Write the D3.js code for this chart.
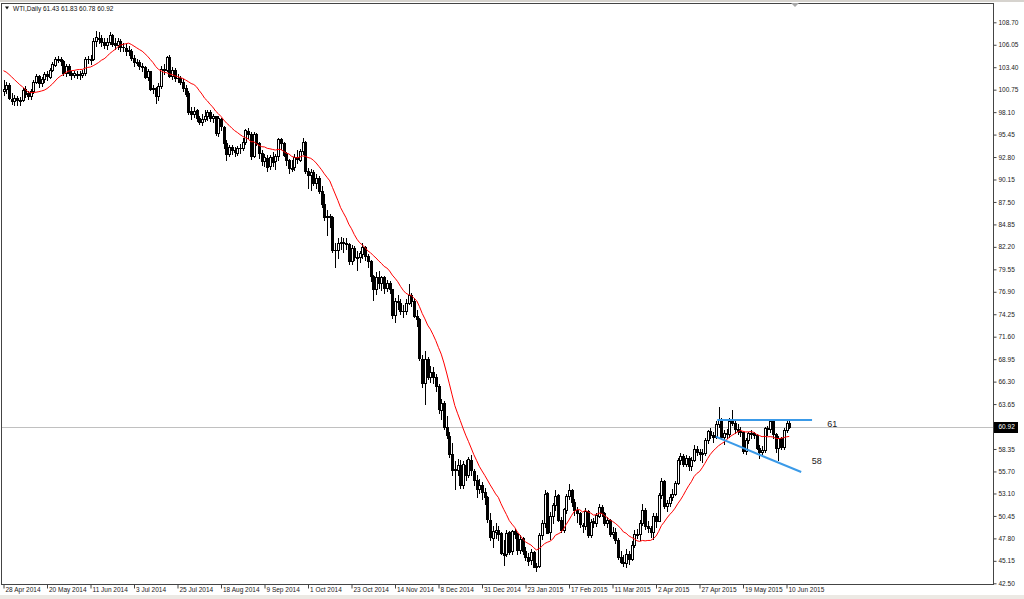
<!DOCTYPE html>
<html><head><meta charset="utf-8">
<script src="https://cdn.jsdelivr.net/npm/d3@7"></script>
<style>
body{margin:0;background:#fff;overflow:hidden;}
svg{display:block;font-family:"Liberation Sans",Arial,sans-serif;}
</style>
</head><body>
<svg id="c" width="1024" height="599"></svg>
<script>
// ---------------- data ----------------
const symbolTitle = "WTI,Daily";
const lastQuote = ["61.43", "61.83", "60.78", "60.92"];
const lastPrice = 60.92;

const dateTickLabels = ["28 Apr 2014","20 May 2014","11 Jun 2014","3 Jul 2014","25 Jul 2014","18 Aug 2014",
  "9 Sep 2014","1 Oct 2014","23 Oct 2014","14 Nov 2014","8 Dec 2014","31 Dec 2014","23 Jan 2015",
  "17 Feb 2015","11 Mar 2015","2 Apr 2015","27 Apr 2015","19 May 2015","10 Jun 2015"];
const dateTickBars = [0,16,32,48,64,80,96,112,128,144,160,176,192,208,224,240,256,272,288];

const priceTicks = [108.70,106.05,103.40,100.75,98.10,95.45,92.80,90.15,87.50,84.85,82.20,79.55,76.90,
  74.25,71.60,68.95,66.30,63.65,61.00,58.35,55.70,53.10,50.45,47.80,45.15,42.50];

const opens = [
  100.60,100.80,101.30,99.70,99.40,99.80,99.50,99.50,100.80,100.30,100.00,100.60,101.70,102.40,101.50,102.00,
  102.60,102.30,103.10,103.70,104.30,104.40,104.10,102.70,103.60,102.70,102.50,102.60,102.60,102.50,102.70,104.40,
  104.30,104.40,106.50,106.90,106.90,106.40,106.00,106.40,107.20,106.20,106.00,106.50,105.80,105.70,105.40,105.30,
  104.50,104.00,104.00,103.50,103.40,102.30,102.90,100.80,100.90,100.00,101.20,103.20,103.10,104.60,102.40,103.10,
  102.10,102.10,101.70,101.00,100.30,98.20,97.90,98.30,97.40,96.90,97.30,97.60,98.10,97.40,97.60,95.60,
  97.30,96.40,94.50,93.10,94.00,93.60,93.30,93.90,93.90,94.60,95.90,95.50,92.90,95.50,94.40,93.30,
  92.30,92.70,91.70,92.80,92.30,92.90,94.90,94.40,93.10,92.40,91.50,91.60,92.80,92.50,93.50,94.60,
  91.20,90.70,91.00,89.70,90.30,88.80,87.30,85.80,85.80,85.70,81.80,81.80,82.70,82.80,82.70,82.50,
  80.50,82.10,81.00,81.00,81.40,82.20,81.10,80.50,78.80,77.20,78.70,77.90,78.60,77.40,77.90,77.20,
  74.20,75.80,75.60,74.60,74.60,75.60,76.50,75.80,74.10,73.70,69.00,66.10,69.00,66.90,67.40,66.80,
  65.80,63.00,63.80,60.90,59.90,57.80,55.90,55.90,56.50,54.10,56.50,55.30,57.10,55.80,54.70,53.60,
  54.10,53.30,52.70,50.00,47.90,48.60,48.80,48.40,46.10,45.90,48.50,46.30,48.70,48.30,46.40,47.80,
  46.30,45.60,45.20,46.20,44.40,44.50,48.20,49.60,53.10,48.50,50.50,51.70,52.90,50.00,48.80,51.20,
  52.80,53.50,52.10,51.20,50.80,49.40,49.30,51.00,48.20,49.80,49.60,50.50,51.50,50.80,49.60,50.00,
  48.30,48.60,47.60,45.60,45.00,44.90,46.00,45.40,47.00,48.30,48.30,49.60,51.20,49.30,49.00,48.60,
  50.40,49.90,52.90,54.60,51.60,52.00,52.70,53.00,54.30,57.00,57.50,56.60,57.30,56.30,57.10,58.40,
  58.00,57.80,57.90,59.40,60.50,60.00,59.80,61.30,61.80,59.80,60.20,60.10,61.60,61.40,60.70,60.50,
  60.30,58.10,59.40,60.20,60.20,60.00,58.50,58.00,58.20,60.80,60.70,61.70,60.10,58.50,59.60,58.60,
  60.60,61.43];
const highs = [
  101.90,101.60,101.50,100.30,100.10,100.00,99.90,101.00,101.20,100.60,100.80,101.90,102.60,102.50,102.30,102.80,
  102.90,103.30,104.00,104.60,104.70,104.60,104.30,103.80,103.80,103.00,103.00,103.00,103.00,103.10,104.60,104.70,
  104.90,106.90,107.70,107.60,107.20,106.80,106.90,107.50,107.30,106.80,106.80,106.70,106.30,106.10,105.90,105.50,
  104.80,104.40,104.20,103.90,103.50,103.20,103.00,101.30,101.10,101.50,103.50,103.80,104.70,104.80,103.40,103.30,
  102.60,102.40,102.00,101.30,100.60,98.70,98.70,98.50,97.70,97.90,98.30,98.40,98.30,97.90,97.70,97.60,
  97.40,96.50,94.80,94.20,94.20,94.00,94.10,94.30,95.00,96.10,96.20,95.70,95.70,95.60,94.60,93.60,
  93.20,93.00,93.00,93.40,93.10,95.10,95.00,94.60,93.40,92.60,92.40,93.10,93.60,93.80,95.00,94.70,
  91.50,91.40,91.30,90.80,90.60,89.40,88.40,86.50,86.10,85.90,82.60,83.20,83.40,83.30,83.30,82.70,
  82.40,82.30,81.70,81.70,82.60,82.30,81.30,80.70,78.90,79.20,79.30,78.80,78.80,78.30,78.20,77.20,
  76.20,76.50,76.00,75.30,76.00,77.80,76.70,76.20,74.80,73.80,69.40,69.90,69.20,68.10,68.00,67.20,
  66.00,64.20,64.00,62.20,60.40,59.00,56.90,57.20,57.00,56.90,57.00,57.40,57.60,56.00,55.30,54.80,
  54.50,53.70,52.80,50.80,49.30,49.60,49.30,48.50,47.60,48.80,48.70,48.80,48.90,48.40,48.20,48.00,
  46.80,46.10,46.50,46.30,44.90,48.40,50.00,53.50,53.30,50.90,52.00,53.50,53.00,50.30,51.40,53.00,
  54.20,53.60,52.40,51.50,50.90,49.60,51.40,51.10,50.10,50.20,50.80,51.80,51.70,50.90,50.30,50.10,
  49.20,49.00,47.80,46.30,45.80,46.60,46.30,47.50,48.80,48.90,50.00,51.80,51.40,49.90,49.30,50.80,
  50.80,53.10,54.90,54.70,52.30,53.00,53.60,54.60,57.30,57.90,57.70,57.60,57.50,57.40,58.80,58.70,
  58.30,58.30,59.60,60.60,60.80,60.40,61.60,63.30,62.00,60.60,60.70,62.00,63.00,61.80,61.30,60.90,
  60.40,59.60,60.40,60.60,60.30,60.10,58.80,58.70,60.90,61.10,61.90,61.80,60.20,59.90,59.80,60.80,
  61.90,61.83];
const lows = [
  100.10,100.40,99.60,99.10,98.90,98.90,98.90,99.40,99.90,99.60,99.70,100.40,101.50,101.10,101.20,101.70,
  101.90,102.10,102.90,103.50,104.00,103.70,102.50,102.40,102.50,102.00,102.20,102.10,102.00,102.20,102.50,103.90,
  103.80,104.20,105.90,106.20,105.90,105.70,105.60,106.10,105.90,105.60,105.50,105.30,105.30,104.90,104.90,104.20,
  103.60,103.70,103.20,102.90,102.10,101.90,100.70,100.30,99.20,99.50,101.00,102.60,102.90,102.20,102.00,101.80,
  101.60,101.40,100.60,100.00,97.90,97.30,97.50,97.10,96.70,96.60,97.00,97.20,97.00,96.90,95.40,95.30,
  96.00,93.90,92.50,92.90,93.20,92.90,93.00,93.30,93.60,94.30,95.10,92.60,92.80,94.20,92.70,91.90,
  91.70,91.20,91.40,91.80,91.40,92.50,93.70,92.90,91.90,90.90,91.20,91.30,92.10,92.30,93.20,90.90,
  89.20,88.90,89.50,89.20,88.50,86.90,85.40,83.60,84.50,81.60,79.80,80.90,81.90,81.60,81.90,80.20,
  80.20,80.70,79.50,80.40,80.90,80.60,79.80,78.20,75.90,76.60,77.40,77.10,76.80,77.00,76.80,73.80,
  73.30,74.90,74.30,73.90,74.30,75.40,75.20,73.90,72.90,68.80,65.70,63.70,66.60,66.20,66.10,65.20,
  62.60,61.90,60.70,59.60,57.40,55.30,53.60,55.30,53.80,53.70,54.70,55.00,55.30,54.10,52.70,53.10,
  52.40,51.90,49.70,47.60,46.80,47.80,47.60,45.90,44.70,45.70,45.90,45.90,47.90,45.90,46.10,45.90,
  45.20,44.70,44.80,44.40,44.00,44.40,47.70,49.20,48.40,47.70,49.60,51.10,49.90,48.60,48.60,50.80,
  52.40,51.60,50.60,49.70,49.20,48.60,48.90,48.00,48.00,49.10,49.30,50.30,50.40,49.40,49.20,48.10,
  47.80,47.30,45.40,44.90,44.50,44.40,44.80,45.20,46.80,47.80,47.60,49.40,48.90,48.60,48.00,47.70,
  49.20,49.80,52.60,51.40,51.00,51.60,52.30,52.90,54.20,56.60,56.30,56.40,55.90,55.90,56.90,57.60,
  57.00,56.80,57.60,59.10,59.70,59.20,59.60,61.00,59.50,58.90,59.60,59.80,61.20,60.20,60.10,59.90,
  57.90,57.80,59.00,59.70,59.60,58.30,57.30,57.80,58.00,60.00,60.40,59.70,58.00,57.10,58.30,58.40,
  60.30,60.78];
const closes = [
  100.84,101.28,99.74,99.42,99.76,99.48,99.50,100.77,100.26,99.99,100.59,101.70,102.37,101.50,102.02,102.61,
  102.33,103.07,103.75,104.35,104.40,104.11,102.72,103.58,102.71,102.47,102.66,102.64,102.48,102.66,104.41,104.35,
  104.40,106.53,106.91,106.90,106.36,105.97,106.43,107.26,106.17,106.03,106.50,105.84,105.74,105.37,105.34,104.48,
  104.06,104.00,103.53,103.40,102.29,102.93,100.83,100.91,99.96,101.20,103.19,103.13,104.59,102.39,103.12,102.07,
  102.09,101.67,100.97,100.27,98.17,97.88,98.29,97.38,96.92,97.34,97.65,98.08,97.37,97.59,95.58,97.35,
  96.41,94.48,93.10,93.96,93.65,93.35,93.86,93.88,94.55,95.96,95.50,92.88,95.54,94.45,93.29,92.29,
  92.75,91.67,92.83,92.27,92.92,94.88,94.42,93.07,92.41,91.52,91.56,92.80,92.53,93.54,94.57,91.16,
  90.73,91.01,89.74,90.34,88.85,87.31,85.77,85.82,85.74,81.84,81.78,82.70,82.75,82.71,82.49,80.52,
  82.09,81.01,81.00,81.42,82.20,81.12,80.54,78.78,77.19,78.68,77.91,78.65,77.40,77.94,77.18,74.21,
  75.82,75.64,74.61,74.58,75.58,76.51,75.78,74.09,73.69,69.05,66.15,69.00,66.88,67.38,66.81,65.84,
  63.05,63.82,60.94,59.95,57.81,55.91,55.93,56.47,54.11,56.52,55.26,57.12,55.84,54.73,53.61,54.12,
  53.27,52.69,50.04,47.93,48.65,48.79,48.36,46.07,45.89,48.48,46.25,48.69,48.30,46.39,47.78,46.31,
  45.59,45.15,46.23,44.45,44.53,48.24,49.57,53.05,48.45,50.48,51.69,52.86,50.02,48.84,51.21,52.78,
  53.53,52.14,51.16,50.81,49.45,49.27,50.99,48.17,49.76,49.59,50.52,51.53,50.76,49.61,50.00,48.29,
  48.60,47.60,45.60,45.00,44.90,46.00,45.40,47.00,48.30,48.30,49.60,51.20,49.30,49.00,48.60,50.40,
  49.90,52.90,54.60,51.60,52.00,52.70,53.00,54.30,57.00,57.50,56.60,57.30,56.30,57.10,58.40,58.00,
  57.80,57.90,59.40,60.50,60.00,59.80,61.30,61.80,59.80,60.20,60.10,61.60,61.40,60.70,60.50,60.30,
  58.10,59.40,60.20,60.20,60.00,58.50,58.00,58.20,60.80,60.70,61.70,60.10,58.50,59.60,58.60,60.60,
  61.43,60.92];

// closes before the first visible bar (warm-up for the moving average)
const priorCloses = [103.60,103.40,103.74,104.05,103.75,103.76,104.30,104.30,104.37,101.75,101.44,101.94,100.60];
const maPeriod = 14;

// hand-drawn annotation lines: [barIndex, price]
const resistanceLine = [[262.5, 61.77], [297.4, 61.77]];
const supportLine = [[262.0, 59.80], [293.4, 55.63]];
const annotationLabels = [["61", 303.0, 61.30], ["58", 297.3, 56.90]];

// ---------------- drawing ----------------
const W = 1024, H = 599;
const svg = d3.select("#c");
const plot = {left: 1.5, right: 993.5, top: 3.5, bottom: 584.5};

const x = d3.scaleLinear().domain([0, 288]).range([3.5, 786.5]);
const y = d3.scaleLinear().domain([42.50, 108.70]).range([583.3, 22.3]);

// outer chrome
svg.append("rect").attr("x", 0).attr("y", 0).attr("width", W).attr("height", H).attr("fill", "#fff");
svg.append("rect").attr("x", 0).attr("y", 0).attr("width", W).attr("height", 2).attr("fill", "#d6d3ce");
svg.append("rect").attr("x", 0).attr("y", 595).attr("width", W).attr("height", 4).attr("fill", "#ece9e4");

const defs = svg.append("defs");
defs.append("clipPath").attr("id", "clip").append("rect")
  .attr("x", plot.left).attr("y", plot.top)
  .attr("width", plot.right - plot.left).attr("height", plot.bottom - plot.top);

// current price line
svg.append("line")
  .attr("x1", plot.left).attr("x2", plot.right)
  .attr("y1", Math.round(y(lastPrice)) + 0.5).attr("y2", Math.round(y(lastPrice)) + 0.5)
  .attr("stroke", "#c0c0c0").attr("stroke-width", 1);

const g = svg.append("g").attr("clip-path", "url(#clip)");

// candles
const idx = d3.range(closes.length);
const cg = g.append("g");
idx.forEach(i => {
  const cx = Math.round(x(i));
  const o = opens[i], c = closes[i];
  const top = Math.round(y(Math.max(o, c)));
  const bot = Math.round(y(Math.min(o, c)));
  cg.append("line")
    .attr("x1", cx + 0.5).attr("x2", cx + 0.5)
    .attr("y1", Math.round(y(highs[i]))).attr("y2", Math.round(y(lows[i])) + 1)
    .attr("stroke", "#000").attr("stroke-width", 1);
  if (c >= o) {
    cg.append("rect")
      .attr("x", cx - 0.5).attr("y", top + 0.5)
      .attr("width", 2).attr("height", Math.max(bot - top, 1))
      .attr("fill", "#fff").attr("stroke", "#000").attr("stroke-width", 1);
  } else {
    cg.append("rect")
      .attr("x", cx - 1).attr("y", top)
      .attr("width", 3).attr("height", Math.max(bot - top + 1, 1))
      .attr("fill", "#000");
  }
});

// moving average of closes
const allCloses = priorCloses.concat(closes);
const ma = idx.map(i => {
  const k = i + priorCloses.length;
  return d3.mean(allCloses.slice(k - maPeriod + 1, k + 1));
});
g.append("path")
  .datum(idx)
  .attr("d", d3.line().x(i => x(i)).y(i => y(ma[i])))
  .attr("fill", "none").attr("stroke", "#ff0000").attr("stroke-width", 1);

// annotation lines
[resistanceLine, supportLine].forEach(seg => {
  g.append("line")
    .attr("x1", x(seg[0][0])).attr("y1", y(seg[0][1]))
    .attr("x2", x(seg[1][0])).attr("y2", y(seg[1][1]))
    .attr("stroke", "#3a9ae8").attr("stroke-width", 2);
});
annotationLabels.forEach(([t, bi, p]) => {
  g.append("text").attr("x", x(bi)).attr("y", y(p))
    .attr("dy", "0.35em").attr("font-size", 9).attr("fill", "#222").text(t);
});

// frame
svg.append("rect")
  .attr("x", plot.left).attr("y", plot.top)
  .attr("width", plot.right - plot.left).attr("height", plot.bottom - plot.top)
  .attr("fill", "none").attr("stroke", "#444").attr("stroke-width", 1);

// right price axis
const yAxis = d3.axisRight(y).tickValues(priceTicks).tickSize(3).tickPadding(2)
  .tickFormat(d => d.toFixed(2));
const ya = svg.append("g").attr("transform", `translate(${plot.right},0)`).call(yAxis);
ya.select(".domain").remove();
ya.selectAll("line").attr("stroke", "#444");
ya.selectAll("text").attr("font-size", 6.5).attr("fill", "#222")
  .attr("font-family", "'Liberation Sans',Arial,sans-serif");

// bottom date axis
const xAxis = d3.axisBottom(x).tickValues(dateTickBars).tickSize(4)
  .tickFormat((d, k) => dateTickLabels[k]);
const xa = svg.append("g").attr("transform", `translate(0,${plot.bottom})`).call(xAxis);
xa.select(".domain").remove();
xa.selectAll("line").attr("stroke", "#444");
xa.selectAll("text").attr("text-anchor", "start").attr("dx", 1.5).attr("y", 3).attr("dy", "0.71em")
  .attr("font-size", 6.5).attr("fill", "#222")
  .attr("font-family", "'Liberation Sans',Arial,sans-serif");

// current price box
const py = y(lastPrice);
svg.append("rect").attr("x", plot.right + 0.5).attr("y", Math.round(py) - 5)
  .attr("width", 24).attr("height", 11).attr("fill", "#000");
svg.append("text").attr("x", plot.right + 5).attr("y", py).attr("dy", "0.35em")
  .attr("font-size", 6.5).attr("fill", "#fff").text(lastPrice.toFixed(2));

// title
svg.append("path").attr("d", "M5,6.5 L9,6.5 L7,9.5 Z").attr("fill", "#111");
svg.append("text").attr("x", 13).attr("y", 10.5).attr("font-size", 6.5).attr("fill", "#111")
  .text(symbolTitle + "  " + lastQuote.join(" "));

// chart shift marker
svg.append("path").attr("d", "M791,3 L799,3 L795,7 Z").attr("fill", "#a8a8a8");
</script>
</body></html>
